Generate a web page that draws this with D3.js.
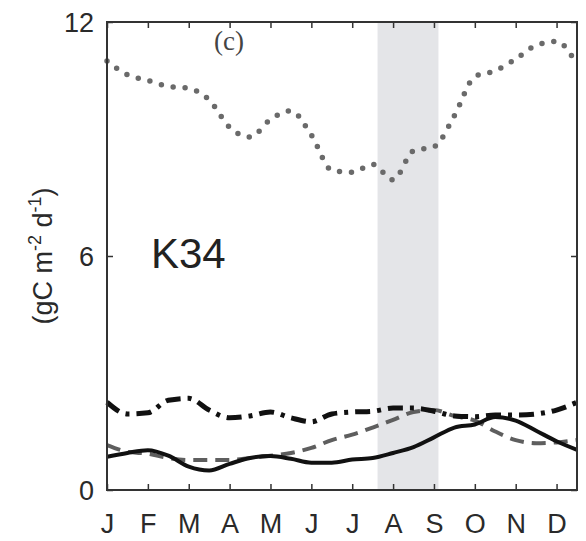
<!DOCTYPE html>
<html>
<head>
<meta charset="utf-8">
<script src="https://cdn.jsdelivr.net/npm/d3@7"></script>
<style>
  body { margin: 0; background: #fff; }
  svg { display: block; font-family: "Liberation Sans", Arial, sans-serif; }
  .tick text { font-size: 27px; fill: #2a2a2a; }
</style>
</head>
<body>
<svg id="chart" width="586" height="541"></svg>
<script>
// semi-monthly steps, in month units from Jan 1
const steps = d3.range(0, 12, 0.5);
const months = ["J", "F", "M", "A", "M", "J", "J", "A", "S", "O", "N", "D"];
const yTicks = [0, 6, 12];
const dryBand = [6.62, 8.11];

const dotted = [11.0, 10.65, 10.5, 10.35, 10.3, 10.0, 9.3, 9.05, 9.5, 9.72, 9.1, 8.2,
  8.15, 8.35, 7.95, 8.7, 8.8, 9.6, 10.6, 10.75, 11.05, 11.4, 11.5, 10.9];
const dashDot = [2.25, 1.95, 1.98, 2.3, 2.35, 2.05, 1.85, 1.9, 2.0, 1.85, 1.75, 1.95,
  2.0, 2.02, 2.1, 2.1, 2.02, 1.9, 1.88, 1.92, 1.92, 1.95, 2.05, 2.25];
const dashed = [1.15, 0.98, 0.93, 0.82, 0.77, 0.77, 0.77, 0.82, 0.88, 0.95, 1.08, 1.28,
  1.42, 1.6, 1.8, 2.0, 2.05, 1.9, 1.78, 1.5, 1.28, 1.2, 1.22, 1.28];
const solid = [0.85, 0.95, 1.02, 0.88, 0.6, 0.5, 0.67, 0.82, 0.87, 0.8, 0.7, 0.7,
  0.78, 0.82, 0.95, 1.1, 1.35, 1.6, 1.68, 1.87, 1.78, 1.52, 1.25, 1.03];

const svg = d3.select("#chart");
const MARGIN = { top: 22, right: 9, bottom: 51, left: 107 };
const width = +svg.attr("width");
const height = +svg.attr("height");

const x = d3.scaleLinear([0, 11.5], [MARGIN.left, width - MARGIN.right]);
const y = d3.scaleLinear([0, 12], [height - MARGIN.bottom, MARGIN.top]);

// shaded season
svg.append("rect")
  .attr("x", x(dryBand[0]))
  .attr("y", y(12))
  .attr("width", x(dryBand[1]) - x(dryBand[0]))
  .attr("height", y(0) - y(12))
  .attr("fill", "#e4e5e8");

const line = d3.line()
  .x((d, i) => x(steps[i]))
  .y((d) => y(d))
  .curve(d3.curveMonotoneX);

const series = [
  { values: dotted, color: "#6a6a6a", width: 5.5, dash: "0,12", cap: "round" },
  { values: dashed, color: "#5e5e5e", width: 4, dash: "14,8", cap: "butt" },
  { values: solid, color: "#111", width: 4, dash: null, cap: "butt" },
  { values: dashDot, color: "#111", width: 5, dash: "15,7,4,7", cap: "butt" },
];

svg.append("g")
  .selectAll("path")
  .data(series)
  .join("path")
  .attr("d", (d) => line(d.values))
  .attr("fill", "none")
  .attr("stroke", (d) => d.color)
  .attr("stroke-width", (d) => d.width)
  .attr("stroke-dasharray", (d) => d.dash)
  .attr("stroke-linecap", (d) => d.cap)
  .attr("stroke-linejoin", "round");

// axes, ticks pointing inward
const monthTicks = d3.range(12);

const bottom = svg.append("g")
  .attr("transform", `translate(0,${y(0)})`)
  .call(d3.axisBottom(x).tickValues(monthTicks).tickFormat((d) => months[d])
    .tickSizeInner(-6).tickSizeOuter(0).tickPadding(0));
bottom.selectAll("text").attr("y", 43).attr("dy", 0);

svg.append("g")
  .attr("transform", `translate(0,${y(12)})`)
  .call(d3.axisTop(x).tickValues(monthTicks).tickFormat("")
    .tickSizeInner(-6).tickSizeOuter(0));

const left = svg.append("g")
  .attr("transform", `translate(${x(0)},0)`)
  .call(d3.axisLeft(y).tickValues(yTicks)
    .tickSizeInner(-6).tickSizeOuter(0).tickPadding(13));
left.selectAll("text").attr("dy", "0.36em");

svg.append("g")
  .attr("transform", `translate(${x(11.5)},0)`)
  .call(d3.axisRight(y).tickValues(yTicks).tickFormat("")
    .tickSizeInner(-6).tickSizeOuter(0));

svg.selectAll(".domain").remove();
svg.selectAll(".tick line").attr("stroke", "#333").attr("stroke-width", 1.5);

svg.append("rect")
  .attr("x", x(0))
  .attr("y", y(12))
  .attr("width", x(11.5) - x(0))
  .attr("height", y(0) - y(12))
  .attr("fill", "none")
  .attr("stroke", "#333")
  .attr("stroke-width", 2);

// y label
const yLabel = svg.append("text")
  .attr("transform", `translate(52,${(y(0) + y(12)) / 2}) rotate(-90)`)
  .attr("text-anchor", "middle")
  .attr("font-size", 27)
  .attr("fill", "#2a2a2a");
yLabel.append("tspan").text("(gC m");
yLabel.append("tspan").attr("font-size", 18).attr("dy", -11).text("-2");
yLabel.append("tspan").attr("dy", 11).text(" d");
yLabel.append("tspan").attr("font-size", 18).attr("dy", -11).text("-1");
yLabel.append("tspan").attr("dy", 11).text(")");

svg.append("text")
  .attr("x", 229)
  .attr("y", 50)
  .attr("text-anchor", "middle")
  .attr("font-family", "'Liberation Serif', 'Times New Roman', serif")
  .attr("font-size", 27)
  .attr("fill", "#444")
  .text("(c)");

svg.append("text")
  .attr("x", 151)
  .attr("y", 268)
  .attr("font-size", 42)
  .attr("fill", "#222")
  .text("K34");
</script>
</body>
</html>
